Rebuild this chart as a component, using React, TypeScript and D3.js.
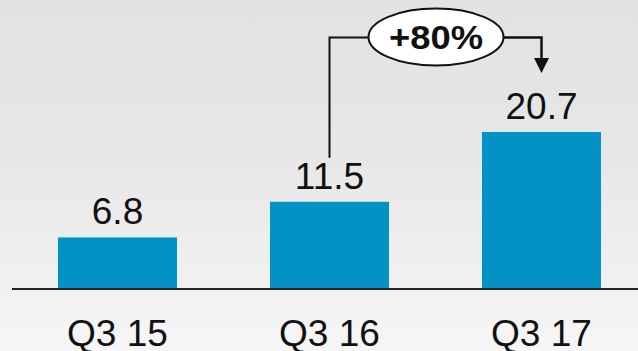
import React from "react";
import * as d3 from "d3";

const categories = ["Q3 15", "Q3 16", "Q3 17"];
const values = [6.8, 11.5, 20.7];
const valueLabels = ["6.8", "11.5", "20.7"];
const growthLabel = "+80%";

const W = 638;
const H = 351;
const baseline = 289;
const barWidth = 119;
const barColor = "#0292c5";

export default function App() {
  const x = d3.scalePoint<string>().domain(categories).range([11.5, 647.5]).padding(0.5);
  const y = d3.scaleLinear().domain([0, d3.max(values) as number]).range([baseline, 132]);

  // growth callout between the last two bars
  const fromX = x(categories[1]) as number;
  const toX = x(categories[2]) as number;
  const fromLabelTop = y(values[1]) - 13 - 27;
  const toLabelTop = y(values[2]) - 13 - 27;
  const calloutY = 37.5;
  const ell = { cx: 436, cy: 37, rx: 67.5, ry: 28.5 };
  const arrowTip = toLabelTop - 19;
  const head = 15;

  return (
    <svg
      width={W}
      height={H}
      style={{ position: "fixed", left: 0, top: 0, display: "block" }}
      fontFamily="'Liberation Sans', Arial, sans-serif"
    >
      <defs>
        <linearGradient id="bg" x1="0" y1="0" x2="0" y2="1">
          <stop offset="0" stopColor="#e2e2e2" />
          <stop offset="0.45" stopColor="#e7e7e7" />
          <stop offset="1" stopColor="#f6f6f6" />
        </linearGradient>
      </defs>
      <rect x={0} y={0} width={W} height={H} fill="url(#bg)" />

      {values.map((v, i) => {
        const cx = x(categories[i]) as number;
        return (
          <g key={categories[i]}>
            <rect x={cx - barWidth / 2} y={y(v)} width={barWidth} height={baseline - y(v)} fill={barColor} />
            <text x={cx} y={y(v) - 13} textAnchor="middle" fontSize={37} fill="#111">
              {valueLabels[i]}
            </text>
            <text x={cx} y={346} textAnchor="middle" fontSize={37} fill="#111">
              {categories[i]}
            </text>
          </g>
        );
      })}

      <line x1={12} x2={W} y1={baseline} y2={baseline} stroke="#222" strokeWidth={2} />

      <path
        d={`M${fromX},${fromLabelTop - 4} V${calloutY} H${ell.cx - ell.rx}`}
        fill="none"
        stroke="#111"
        strokeWidth={2}
      />
      <path
        d={`M${ell.cx + ell.rx},${calloutY} H${toX} V${arrowTip - head + 1}`}
        fill="none"
        stroke="#111"
        strokeWidth={2.5}
      />
      <path
        d={`M${toX - 7.5},${arrowTip - head} L${toX + 7.5},${arrowTip - head} L${toX},${arrowTip} Z`}
        fill="#111"
      />
      <ellipse cx={ell.cx} cy={ell.cy} rx={ell.rx} ry={ell.ry} fill="#fff" stroke="#111" strokeWidth={2} />
      <text
        x={ell.cx}
        y={ell.cy + 11.5}
        textAnchor="middle"
        fontSize={33}
        fontWeight="bold"
        fill="#111"
        textLength={94}
        lengthAdjust="spacingAndGlyphs"
      >
        {growthLabel}
      </text>
    </svg>
  );
}
